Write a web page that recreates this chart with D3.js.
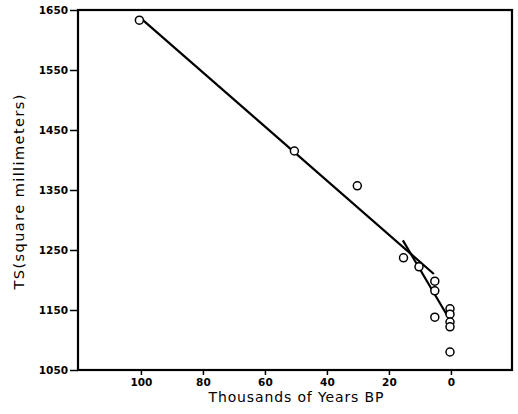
<!DOCTYPE html>
<html><head><meta charset="utf-8">
<script src="https://cdn.jsdelivr.net/npm/d3@7"></script>
<style>body{margin:0;background:#fff}</style>
</head><body>
<script>
const ages = [100.5, 50.5, 30.2, 15.3, 10.3, 5.2, 5.2, 5.2, 0.3, 0.3, 0.3, 0.3, 0.3];
const areas = [1633, 1415, 1357, 1237, 1222, 1198, 1182, 1138, 1152, 1143, 1130, 1122, 1080];
const fit1Ages = [100, 5.5];
const fit1Areas = [1636, 1210];
const fit2Ages = [15.5, 0.2];
const fit2Areas = [1266, 1132];
const xTicks = [100, 80, 60, 40, 20, 0];
const yTicks = [1050, 1150, 1250, 1350, 1450, 1550, 1650];

const W = 518, H = 414;
const m = {left: 78, right: 6, top: 10, bottom: 44};
const svg = d3.select("body").append("svg").attr("width", W).attr("height", H);
const x = d3.scaleLinear().domain([120.3, -19.7]).range([m.left, W - m.right]);
const y = d3.scaleLinear().domain([1050, 1650]).range([H - m.bottom, m.top]);
const font = "'DejaVu Sans', sans-serif";

const gx = svg.append("g").attr("transform", `translate(0,${H - m.bottom})`)
  .call(d3.axisBottom(x).tickValues(xTicks).tickFormat(d3.format("d")).tickSize(5).tickPadding(4));
const gy = svg.append("g").attr("transform", `translate(${m.left},0)`)
  .call(d3.axisLeft(y).tickValues(yTicks).tickFormat(d3.format("d")).tickSize(8).tickPadding(2));
[gx, gy].forEach(g => {
  g.select(".domain").remove();
  g.selectAll("line").attr("stroke", "#000").attr("stroke-width", 1.5);
  g.selectAll("text").attr("font-family", font).attr("font-size", 10.5)
    .attr("font-weight", "bold").attr("fill", "#000");
});

svg.append("rect").attr("x", m.left).attr("y", m.top)
  .attr("width", W - m.right - m.left).attr("height", H - m.bottom - m.top)
  .attr("fill", "none").attr("stroke", "#000").attr("stroke-width", 2.2);

const line = d3.line().x(d => x(d[0])).y(d => y(d[1]));
svg.append("path").datum(d3.zip(fit1Ages, fit1Areas)).attr("d", line)
  .attr("stroke", "#000").attr("stroke-width", 2.2).attr("fill", "none");
svg.append("path").datum(d3.zip(fit2Ages, fit2Areas)).attr("d", line)
  .attr("stroke", "#000").attr("stroke-width", 2.2).attr("fill", "none");

svg.selectAll("circle.pt").data(d3.zip(ages, areas)).join("circle")
  .attr("class", "pt").attr("cx", d => x(d[0])).attr("cy", d => y(d[1]))
  .attr("r", 4).attr("fill", "#fff").attr("stroke", "#000").attr("stroke-width", 1.5);

svg.append("text").attr("x", 296).attr("y", 402).attr("text-anchor", "middle")
  .attr("font-family", font).attr("font-size", 14)
  .attr("textLength", 175).attr("lengthAdjust", "spacing").text("Thousands of Years BP");
svg.append("text").attr("transform", "translate(24,192) rotate(-90)").attr("text-anchor", "middle")
  .attr("font-family", font).attr("font-size", 14.5)
  .attr("textLength", 195).attr("lengthAdjust", "spacing").text("TS(square millimeters)");
</script>
</body></html>
